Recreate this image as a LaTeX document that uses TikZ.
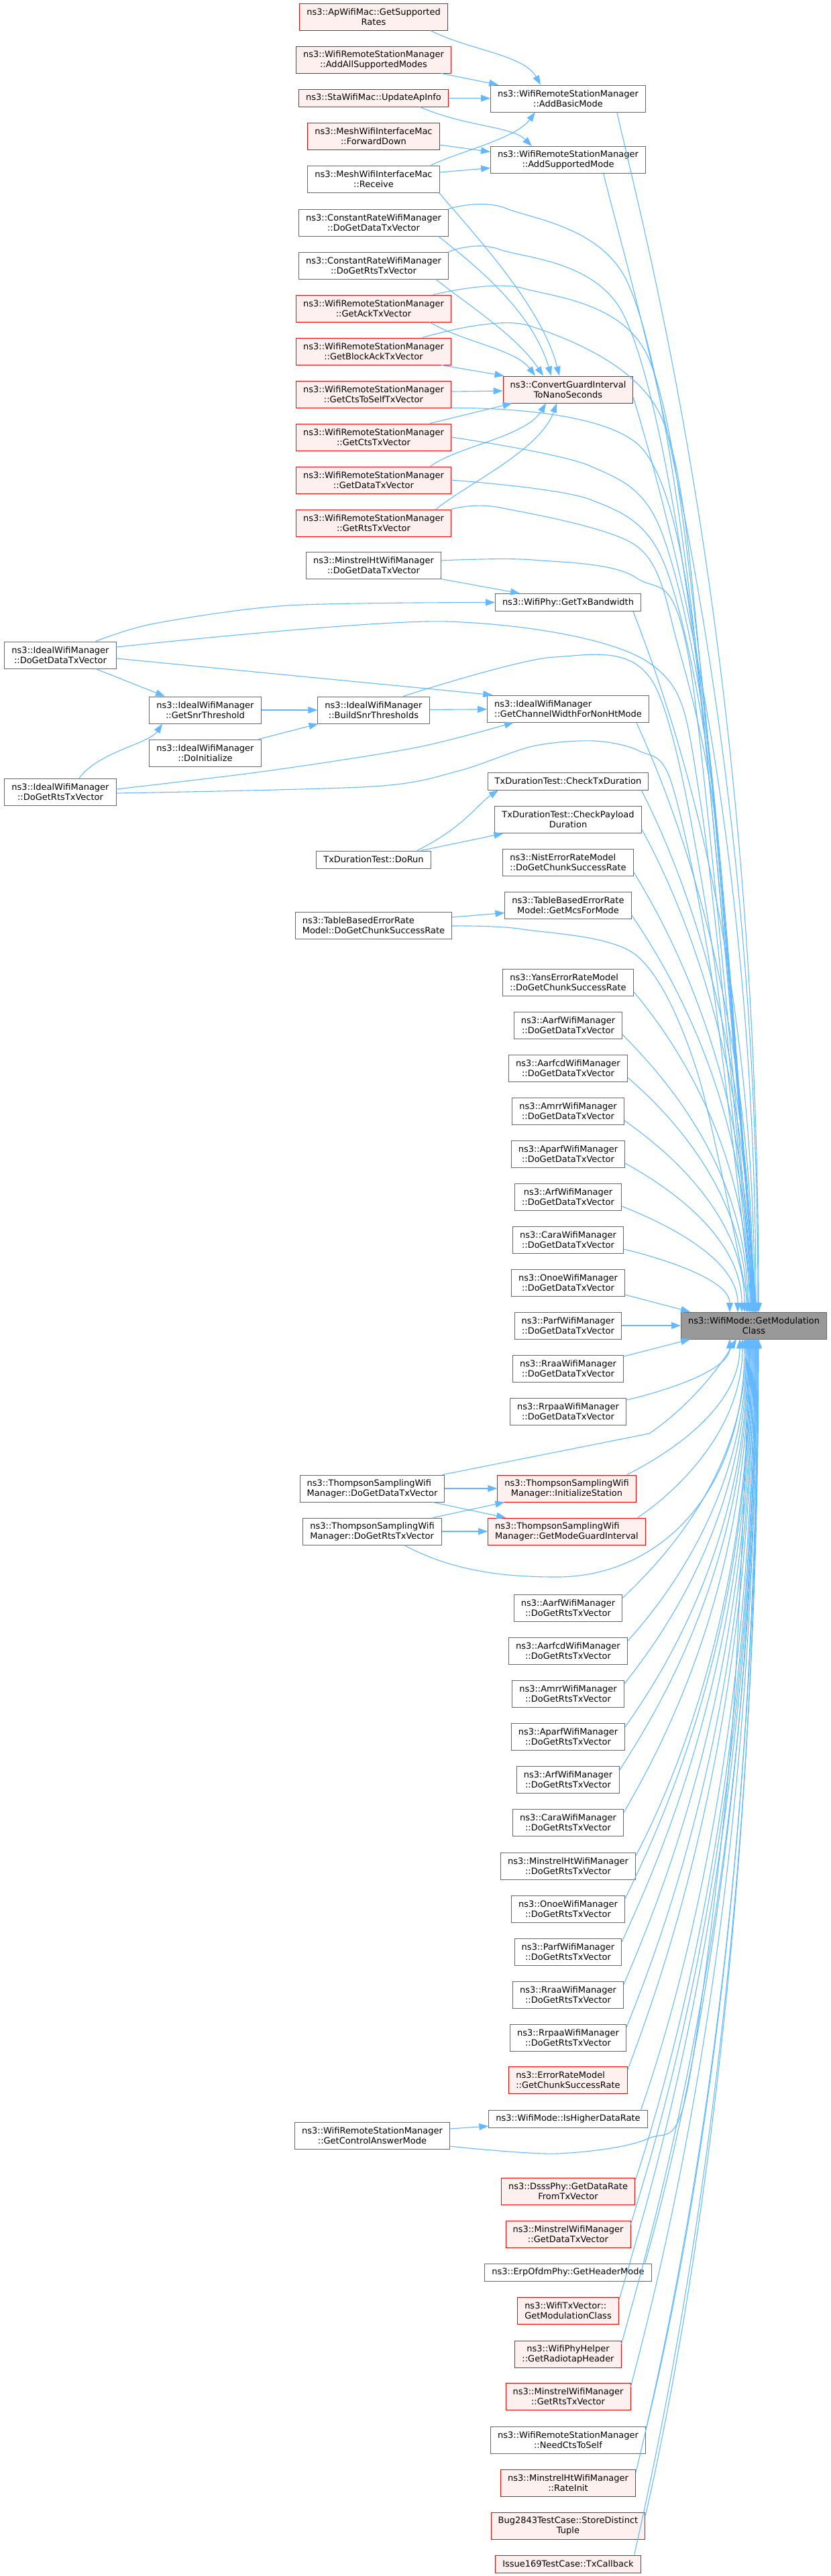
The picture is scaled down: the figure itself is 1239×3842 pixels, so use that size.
\documentclass[tikz,border=0pt]{standalone}
\usepackage{fontspec}
\setmainfont{DejaVu Sans}
\usetikzlibrary{shapes, arrows.meta, positioning, calc}
\definecolor{edgeblue}{HTML}{63B8FF}
\definecolor{nodegray}{HTML}{666666}
\definecolor{redfill}{HTML}{FFF0F0}
\definecolor{targetfill}{HTML}{999999}
\tikzstyle{funcbox} = [draw=nodegray, fill=white, line width=1pt, rectangle, inner xsep=10.5pt, inner ysep=0pt, minimum height=26pt, align=center]
\tikzstyle{twol} = [minimum height=40pt]
\tikzstyle{redbox} = [funcbox, draw=red, fill=redfill]
\tikzstyle{mainbox} = [funcbox, fill=targetfill]
\tikzstyle{callarrow} = [draw=edgeblue, line width=1.1pt, -{Triangle[length=14pt,width=10pt]}]
\newcommand{\callmod}[2]{\draw[callarrow] let \p1=(#1), \p2=(#2), \n1={\y1-\y2} in (\p1) .. controls (\x1+40pt,\y1-0.1*\n1) and (\x2,\y2+0.55*\n1) .. (\p2);}

\begin{document}
\begin{tikzpicture}[x=1pt, y=-1pt, font=\fontsize{13pt}{15pt}\selectfont]
	\useasboundingbox (0,0) rectangle (1239,3842);
	\node[redbox, twol] (apsr) at (557,25) {ns3::ApWifiMac::GetSupported\\Rates};
	\node[redbox, twol] (aasm) at (557,89) {ns3::WifiRemoteStationManager\\::AddAllSupportedModes};
	\node[redbox] (uai) at (557,146) {ns3::StaWifiMac::UpdateApInfo};
	\node[redbox, twol] (mfd) at (557,203) {ns3::MeshWifiInterfaceMac\\::ForwardDown};
	\node[funcbox, twol] (mrx) at (557,267) {ns3::MeshWifiInterfaceMac\\::Receive};
	\node[funcbox, twol] (crd) at (557,332) {ns3::ConstantRateWifiManager\\::DoGetDataTxVector};
	\node[funcbox, twol] (crr) at (557,396) {ns3::ConstantRateWifiManager\\::DoGetRtsTxVector};
	\node[redbox, twol] (gack) at (557,460) {ns3::WifiRemoteStationManager\\::GetAckTxVector};
	\node[redbox, twol] (gback) at (557,524) {ns3::WifiRemoteStationManager\\::GetBlockAckTxVector};
	\node[redbox, twol] (gcss) at (557,588) {ns3::WifiRemoteStationManager\\::GetCtsToSelfTxVector};
	\node[redbox, twol] (gcts) at (557,652) {ns3::WifiRemoteStationManager\\::GetCtsTxVector};
	\node[redbox, twol] (gdat) at (557,716) {ns3::WifiRemoteStationManager\\::GetDataTxVector};
	\node[redbox, twol] (grts) at (557,780) {ns3::WifiRemoteStationManager\\::GetRtsTxVector};
	\node[funcbox, twol] (mhd) at (557,843) {ns3::MinstrelHtWifiManager\\::DoGetDataTxVector};
	\node[funcbox, twol] (idd) at (90,977) {ns3::IdealWifiManager\\::DoGetDataTxVector};
	\node[funcbox, twol] (snr) at (306,1059) {ns3::IdealWifiManager\\::GetSnrThreshold};
	\node[funcbox, twol] (build) at (557,1059) {ns3::IdealWifiManager\\::BuildSnrThresholds};
	\node[funcbox, twol] (doinit) at (306,1123) {ns3::IdealWifiManager\\::DoInitialize};
	\node[funcbox, twol] (idr) at (90,1181) {ns3::IdealWifiManager\\::DoGetRtsTxVector};
	\node[funcbox] (dorun) at (557,1282) {TxDurationTest::DoRun};
	\node[funcbox, twol, align=left] (tbchunk) at (557,1380) {ns3::TableBasedErrorRate\\Model::DoGetChunkSuccessRate};
	\node[funcbox, twol, align=left] (tsdata) at (555,2220) {ns3::ThompsonSamplingWifi\\Manager::DoGetDataTxVector};
	\node[funcbox, twol, align=left] (tsrts) at (555,2284) {ns3::ThompsonSamplingWifi\\Manager::DoGetRtsTxVector};
	\node[funcbox, twol] (gcam) at (555,3185) {ns3::WifiRemoteStationManager\\::GetControlAnswerMode};

	\node[funcbox, twol] (abm) at (847,147) {ns3::WifiRemoteStationManager\\::AddBasicMode};
	\node[funcbox, twol] (asm) at (847,238.5) {ns3::WifiRemoteStationManager\\::AddSupportedMode};
	\node[redbox, twol] (cgi) at (847,581) {ns3::ConvertGuardInterval\\ToNanoSeconds};
	\node[funcbox] (gtxbw) at (847,898.5) {ns3::WifiPhy::GetTxBandwidth};
	\node[funcbox, twol, align=left] (gcw) at (847,1057) {ns3::IdealWifiManager\\::GetChannelWidthForNonHtMode};
	\node[funcbox] (ctd) at (847,1165) {TxDurationTest::CheckTxDuration};
	\node[funcbox, twol] (cpd) at (847,1222.5) {TxDurationTest::CheckPayload\\Duration};
	\node[funcbox, twol, align=left] (nist) at (847,1286.5) {ns3::NistErrorRateModel\\::DoGetChunkSuccessRate};
	\node[funcbox, twol] (tbmcs) at (847,1350.5) {ns3::TableBasedErrorRate\\Model::GetMcsForMode};
	\node[funcbox, twol, align=left] (yans) at (847,1465) {ns3::YansErrorRateModel\\::DoGetChunkSuccessRate};
	\node[funcbox, twol] (aarfd) at (847,1529) {ns3::AarfWifiManager\\::DoGetDataTxVector};
	\node[funcbox, twol] (aarfcdd) at (847,1593) {ns3::AarfcdWifiManager\\::DoGetDataTxVector};
	\node[funcbox, twol] (amrrd) at (847,1657) {ns3::AmrrWifiManager\\::DoGetDataTxVector};
	\node[funcbox, twol] (aparfd) at (847,1721) {ns3::AparfWifiManager\\::DoGetDataTxVector};
	\node[funcbox, twol] (arfd) at (847,1785) {ns3::ArfWifiManager\\::DoGetDataTxVector};
	\node[funcbox, twol] (carad) at (847,1849) {ns3::CaraWifiManager\\::DoGetDataTxVector};
	\node[funcbox, twol] (onoed) at (847,1913) {ns3::OnoeWifiManager\\::DoGetDataTxVector};
	\node[funcbox, twol] (parfd) at (847,1977) {ns3::ParfWifiManager\\::DoGetDataTxVector};
	\node[funcbox, twol] (rraad) at (847,2041) {ns3::RraaWifiManager\\::DoGetDataTxVector};
	\node[funcbox, twol] (rrpaad) at (847,2105) {ns3::RrpaaWifiManager\\::DoGetDataTxVector};
	\node[redbox, twol] (tsinit) at (845,2220) {ns3::ThompsonSamplingWifi\\Manager::InitializeStation};
	\node[redbox, twol, align=left] (tsgi) at (845,2284) {ns3::ThompsonSamplingWifi\\Manager::GetModeGuardInterval};
	\node[funcbox, twol] (aarfr) at (847,2398.5) {ns3::AarfWifiManager\\::DoGetRtsTxVector};
	\node[funcbox, twol] (aarfcdr) at (847,2462.5) {ns3::AarfcdWifiManager\\::DoGetRtsTxVector};
	\node[funcbox, twol] (amrrr) at (847,2526.5) {ns3::AmrrWifiManager\\::DoGetRtsTxVector};
	\node[funcbox, twol] (aparfr) at (847,2590.5) {ns3::AparfWifiManager\\::DoGetRtsTxVector};
	\node[funcbox, twol] (arfr) at (847,2654.5) {ns3::ArfWifiManager\\::DoGetRtsTxVector};
	\node[funcbox, twol] (carar) at (847,2718.5) {ns3::CaraWifiManager\\::DoGetRtsTxVector};
	\node[funcbox, twol] (mhr) at (847,2783) {ns3::MinstrelHtWifiManager\\::DoGetRtsTxVector};
	\node[funcbox, twol] (onoer) at (847,2847) {ns3::OnoeWifiManager\\::DoGetRtsTxVector};
	\node[funcbox, twol] (parfr) at (847,2911) {ns3::ParfWifiManager\\::DoGetRtsTxVector};
	\node[funcbox, twol] (rraar) at (847,2975) {ns3::RraaWifiManager\\::DoGetRtsTxVector};
	\node[funcbox, twol] (rrpaar) at (847,3039) {ns3::RrpaaWifiManager\\::DoGetRtsTxVector};
	\node[redbox, twol, align=left] (erm) at (847,3102.5) {ns3::ErrorRateModel\\::GetChunkSuccessRate};
	\node[funcbox] (ihdr) at (847,3160) {ns3::WifiMode::IsHigherDataRate};
	\node[redbox, twol] (dsss) at (847,3268) {ns3::DsssPhy::GetDataRate\\FromTxVector};
	\node[redbox, twol] (minsd) at (847,3332) {ns3::MinstrelWifiManager\\::GetDataTxVector};
	\node[funcbox] (erp) at (847,3389) {ns3::ErpOfdmPhy::GetHeaderMode};
	\node[redbox, twol, align=left] (wtxv) at (847,3446.5) {ns3::WifiTxVector::\\GetModulationClass};
	\node[redbox, twol] (radio) at (847,3511) {ns3::WifiPhyHelper\\::GetRadiotapHeader};
	\node[redbox, twol] (minsr) at (847,3574.5) {ns3::MinstrelWifiManager\\::GetRtsTxVector};
	\node[funcbox, twol] (ncts) at (847,3639) {ns3::WifiRemoteStationManager\\::NeedCtsToSelf};
	\node[redbox, twol] (rinit) at (847,3703) {ns3::MinstrelHtWifiManager\\::RateInit};
	\node[redbox, twol] (bug) at (847,3767) {Bug2843TestCase::StoreDistinct\\Tuple};
	\node[redbox] (issue) at (847,3824) {Issue169TestCase::TxCallback};

	\node[mainbox, twol] (mod) at (1124,1977) {ns3::WifiMode::GetModulation\\Class};

	\draw[callarrow] ([xshift=-26pt]apsr.south east) .. controls +(60,30) and +(-25,-45) .. ([xshift=-41pt]abm.north);
	\draw[callarrow] ([xshift=-15pt]aasm.south east) -- ([xshift=12pt]abm.north west);
	\draw[callarrow] (uai) -- (abm);
	\draw[callarrow] ([xshift=-43pt]uai.south east) .. controls +(70,30) and +(-30,-30) .. ([xshift=-54pt]asm.north);
	\draw[callarrow] ([yshift=-13pt]mfd.east) -- ([yshift=12pt]asm.west);
	\draw[callarrow] ([xshift=-13pt]mrx.north east) .. controls +(40,-20) and +(-30,40) .. ([xshift=-49pt]abm.south);
	\draw[callarrow] ([yshift=10pt]mrx.east) -- ([yshift=-12pt]asm.west);

	\draw[callarrow] ([xshift=-1pt]mrx.south east) .. controls +(60,70) and +(-25,-100) .. ([xshift=-13pt]cgi.north);
	\draw[callarrow] ([xshift=-15pt]crd.south east) .. controls +(50,40) and +(-30,-100) .. ([xshift=-25pt]cgi.north);
	\draw[callarrow] ([xshift=-19pt]crr.south east) .. controls +(50,40) and +(-40,-60) .. ([xshift=-37pt]cgi.north);
	\draw[callarrow] ([xshift=-32pt]gack.south east) .. controls +(50,30) and +(-30,-40) .. ([xshift=-49pt]cgi.north);
	\draw[callarrow] ([xshift=-15pt]gback.south east) -- ([xshift=2pt]cgi.north west);
	\draw[callarrow] ([yshift=4pt]gcss.east) -- ([yshift=-2pt]cgi.west);
	\draw[callarrow] ([xshift=-32pt]gcts.north east) -- ([xshift=14pt]cgi.south west);
	\draw[callarrow] ([xshift=-31pt]gdat.north east) .. controls +(40,-30) and +(-30,50) .. ([xshift=-33pt]cgi.south);
	\draw[callarrow] ([xshift=-23pt]grts.north east) .. controls +(50,-40) and +(-25,70) .. ([xshift=-17pt]cgi.south);

	\draw[callarrow] plot[smooth] coordinates {(crd.north east) (755,311) (935,420) (1030,900) (1128,1957)};
	\draw[callarrow] plot[smooth] coordinates {(crr.north east) (745,372) (930,470) (1035,960) (1128,1957)};
	\draw[callarrow] plot[smooth] coordinates {([xshift=-27pt]gack.north east) (780,430) (965,530) (1045,1000) (1128,1957)};
	\draw[callarrow] plot[smooth] coordinates {([xshift=-43pt]gback.north east) (790,486) (985,620) (1050,1050) (1127,1957)};
	\draw[callarrow] plot[smooth] coordinates {(gcss.south east) (960,672) (1055,1100) (1127,1957)};
	\draw[callarrow] plot[smooth] coordinates {(gcts.east) (880,695) (985,790) (1060,1150) (1126,1957)};
	\draw[callarrow] plot[smooth] coordinates {(gdat.east) (880,745) (990,840) (1065,1200) (1126,1957)};
	\draw[callarrow] plot[smooth] coordinates {(grts.north east) (745,757) (950,815) (1010,960) (1070,1250) (1126,1957)};
	\draw[callarrow] plot[smooth] coordinates {([yshift=7pt]mhd.east) (794,835) (949,862) (1030,1000) (1125,1957)};
	\draw[callarrow] (mhd.south east) -- ([xshift=-72pt]gtxbw.north);

	\draw[callarrow] plot[smooth] coordinates {([xshift=-31pt]idd.north east) (230,930) (430,903) (gtxbw.west)};
	\draw[callarrow] plot[smooth] coordinates {([yshift=12pt]idd.east) (667,927) (970,990) (1045,1200) (1124,1957)};
	\draw[callarrow] ([yshift=-5pt]idd.east) -- ([xshift=8pt]gcw.north west);
	\draw[callarrow] ([xshift=-31pt]idd.south east) -- ([xshift=-60pt]snr.north);
	\draw[callarrow] (snr) -- (build);
	\draw[callarrow] (build) -- (gcw);
	\draw[callarrow] plot[smooth] coordinates {([xshift=44pt]build.north) (826,980) (975,1020) (1060,1400) (1123,1957)};
	\draw[callarrow] ([xshift=-4pt]doinit.north east) -- ([xshift=1pt]build.south west);
	\draw[callarrow] ([xshift=28pt]idr.north) .. controls +(30,-40) and +(-20,30) .. ([xshift=-64pt]snr.south);
	\draw[callarrow] plot[smooth] coordinates {([yshift=4pt]idr.east) (397,1150) (620,1115) ([xshift=-81pt]gcw.south)};
	\draw[callarrow] plot[smooth] coordinates {([yshift=-2pt]idr.east) (556,1173) (683,1150) (794,1113) (885,1105) (953,1120) (1001,1167) (1060,1450) (1122,1957)};

	\draw[callarrow] ([xshift=65pt]dorun.north) .. controls +(70,-35) and +(-30,20) .. ([xshift=-104pt]ctd.south);
	\draw[callarrow] ([xshift=71pt]dorun.north) -- ([xshift=13pt]cpd.south west);
	\draw[callarrow] ([yshift=12pt]tbchunk.east) -- ([yshift=-11pt]tbmcs.west);
	\draw[callarrow] plot[smooth] coordinates {([yshift=-1pt]tbchunk.east) (780,1386) (949,1425) (1040,1600) (1118,1957)};

	\callmod{[xshift=-43pt]abm.south east}{1131,1957}
	\callmod{[xshift=-63pt]asm.south east}{1130,1957}
	\callmod{[yshift=-12pt]cgi.east}{1127,1957}
	\callmod{[xshift=-12pt]gtxbw.south east}{1125,1957}
	\callmod{[xshift=-19pt]gcw.south east}{1123,1957}
	\callmod{[xshift=-11pt]ctd.south east}{1122,1957}
	\callmod{[yshift=-14pt]cpd.east}{1121,1957}
	\callmod{[yshift=-14pt]nist.east}{1120,1957}
	\callmod{[yshift=-14pt]tbmcs.east}{1119,1957}
	\callmod{[yshift=-14pt]yans.east}{1117,1957}
	\callmod{[yshift=-14pt]aarfd.east}{1115,1957}
	\callmod{[yshift=-14pt]aarfcdd.east}{1113,1957}
	\callmod{[yshift=-14pt]amrrd.east}{1110,1957}
	\callmod{[yshift=-14pt]aparfd.east}{1106,1957}
	\callmod{[yshift=-14pt]arfd.east}{1100,1957}
	\callmod{[yshift=-14pt]carad.east}{1088,1957}
	\draw[callarrow] ([yshift=-18pt]onoed.east) -- ([xshift=14pt]mod.north west);
	\draw[callarrow] (parfd) -- (mod);
	\draw[callarrow] ([yshift=18pt]rraad.east) -- ([xshift=14pt]mod.south west);
	\callmod{[yshift=17pt]rrpaad.east}{1088,1997}

	\draw[callarrow] (tsdata) -- (tsinit);
	\draw[callarrow] ([xshift=-18pt]tsdata.south east) -- ([xshift=27pt]tsgi.north west);
	\draw[callarrow] ([xshift=-13pt]tsrts.north east) -- ([xshift=11pt]tsinit.south west);
	\draw[callarrow] (tsrts) -- (tsgi);
	\draw[callarrow] ([xshift=-4pt]tsdata.north east) -- (968,2138) .. controls (1010,2110) and (1060,2060) .. (1098,1997);
	\callmod{[xshift=-14pt]tsinit.north east}{1103,1997}
	\callmod{[xshift=-12pt]tsgi.north east}{1107,1997}
	\draw[callarrow] ([xshift=-56pt]tsrts.south east) .. controls +(76,41) and +(-70,0) .. (830,2352) .. controls (980,2352) and (1110,2230) .. (1110,1997);

	\callmod{[yshift=15pt]aarfr.east}{1112,1997}
	\callmod{[yshift=15pt]aarfcdr.east}{1113,1997}
	\callmod{[yshift=15pt]amrrr.east}{1114,1997}
	\callmod{[yshift=15pt]aparfr.east}{1115,1997}
	\callmod{[yshift=15pt]arfr.east}{1116,1997}
	\callmod{[yshift=15pt]carar.east}{1117,1997}
	\callmod{[yshift=15pt]mhr.east}{1118,1997}
	\callmod{[yshift=15pt]onoer.east}{1119,1997}
	\callmod{[yshift=15pt]parfr.east}{1120,1997}
	\callmod{[yshift=15pt]rraar.east}{1121,1997}
	\callmod{[yshift=15pt]rrpaar.east}{1122,1997}
	\callmod{[yshift=15pt]erm.east}{1123,1997}
	\callmod{[xshift=-10pt]ihdr.north east}{1124,1997}
	\draw[callarrow] ([yshift=10pt]gcam.east) -- ([yshift=-11pt]ihdr.west);
	\draw[callarrow] plot[smooth] coordinates {([yshift=-16pt]gcam.east) (830,3212) (965,3190) (1024,3120) (1090,2600) (1118,1997)};
	\callmod{[yshift=15pt]dsss.east}{1125,1997}
	\callmod{[yshift=15pt]minsd.east}{1126,1997}
	\callmod{[xshift=-10pt]erp.north east}{1126,1997}
	\callmod{[yshift=15pt]wtxv.east}{1127,1997}
	\callmod{[yshift=15pt]radio.east}{1128,1997}
	\callmod{[yshift=15pt]minsr.east}{1128,1997}
	\callmod{[yshift=15pt]ncts.east}{1129,1997}
	\callmod{[yshift=15pt]rinit.east}{1130,1997}
	\callmod{[yshift=15pt]bug.east}{1130,1997}
	\callmod{[xshift=-10pt]issue.north east}{1131,1997}
\end{tikzpicture}
\end{document}
